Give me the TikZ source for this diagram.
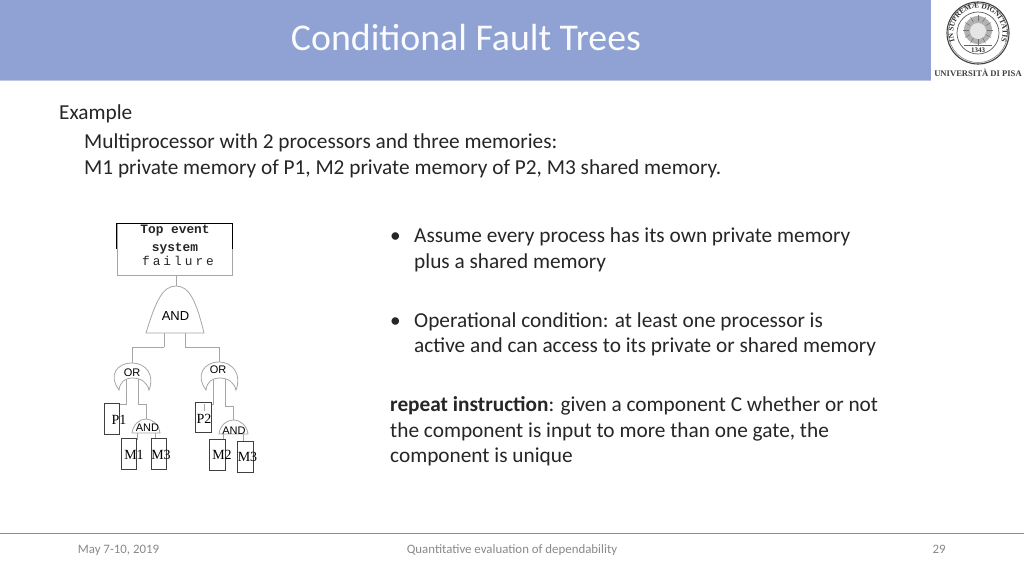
\documentclass[tikz,border=0pt]{standalone}
\usepackage{fontspec}
\setmainfont{Carlito}
\newfontfamily\helv{Liberation Sans}
\newfontfamily\tms{Liberation Serif}
\newfontfamily\crr{Liberation Mono}
\usetikzlibrary{decorations.text,calc}
\definecolor{band}{HTML}{8FA2D3}
\definecolor{ftxt}{HTML}{898989}
\definecolor{wire}{HTML}{A6A6A6}
\definecolor{bodyt}{HTML}{262626}
\definecolor{edge}{HTML}{404040}
\tikzset{
 x=1pt,y=-1pt,
 body/.style={anchor=base west,inner sep=0pt,font=\fontsize{21.3}{25}\selectfont,text=bodyt},
 foot/.style={anchor=base,inner sep=0pt,font=\fontsize{12.85}{15}\selectfont,text=ftxt},
 basic/.style={draw=edge,line width=.9pt,fill=white,inner sep=0pt},
 wirel/.style={draw=wire,line width=.8pt},
 gatel/.style={draw=wire,line width=.8pt,fill=white},
 glab/.style={inner sep=0pt,font=\helv\fontsize{12}{14}\selectfont,text=black},
 glabs/.style={inner sep=0pt,font=\helv\fontsize{11}{13}\selectfont,text=black},
 evt/.style={inner sep=0pt,font=\tms\fontsize{14}{16}\selectfont,text=black},
 top/.style={inner sep=0pt,font=\crr\bfseries\fontsize{12.8}{14}\selectfont,text=black!85},
}
\begin{document}
\begin{tikzpicture}
\useasboundingbox (0,0) rectangle (1024,576);
\fill[white] (0,0) rectangle (1024,576);
\fill[band] (0,0) rectangle (931,80);
\fill[band!60] (0,80) rectangle (931,80.8);
\node (title) [anchor=base,inner sep=0pt,text=white!96!band,font=\fontsize{37.8}{42}\selectfont] at (466,50) {Conditional Fault Trees};
% logo
\coordinate (seal) at (978,33);
\draw[black!75,line width=1.1pt] (seal) circle (31);
\draw[black!65,line width=.7pt] (seal) circle (21);
\draw[black!55,line width=.5pt] (seal) circle (29.5);
\fill[black!30] ($(seal)+(0,-3)$) circle (14);
\fill[black!10] ($(seal)+(0,-2)$) circle (8);
\foreach \a in {0,30,...,330}{\draw[black!55,line width=.5pt] ($(seal)+(0,-3)+(\a:9)$) -- ($(seal)+(0,-3)+(\a:15)$);}
\draw[black!60,line width=.6pt] ($(seal)+(-14,12)$) -- ($(seal)+(14,12)$);
\path[postaction={decorate,decoration={text along path,text align=center,text={|\tms\bfseries\fontsize{7.4}{8}\selectfont\color{black!80}|IN SUPREMÆ DIGNITATIS}}}]
  ($(seal)+(-22.5,10)$) arc[start angle=204,end angle=-24,radius=24.6,y radius=-24.6];
\node (year) [inner sep=0pt,font=\tms\bfseries\fontsize{7}{8}\selectfont,text=black!80] at ($(seal)+(0,17)$) {1343};
\node (uni) [inner sep=0pt,font=\tms\bfseries\fontsize{8.6}{10}\selectfont,text=black!75] at (978,73) {UNIVERSITÀ DI PISA};
% header text
\node (ex) [body] at (59,119.6) {Example};
\node (l1) [body] at (84,148.6) {Multiprocessor with 2 processors and three memories:};
\node (l2) [body] at (84,174.4) {M1 private memory of P1, M2 private memory of P2, M3 shared memory.};
\node (b1) [body] at (390,242.5) {•};
\node (b1a) [body] at (414,242.5) {Assume every process has its own private memory};
\node (b1b) [body] at (414,268.3) {plus a shared memory};
\node (b2) [body] at (390,327.3) {•};
\node (b2a) [body] at (414,327.3) {Operational condition: at least one processor is};
\node (b2b) [body] at (414,352.8) {active and can access to its private or shared memory};
\node (r1) [body] at (390,411.5) {\textbf{repeat instruction}: given a component C whether or not};
\node (r2) [body] at (390,437.3) {the component is input to more than one gate, the};
\node (r3) [body] at (390,462.8) {component is unique};
% footer
\draw[black!45,line width=.7pt] (0,533.5) -- (1024,533.5);
\node (f1) [foot] at (118.5,553) {May 7-10, 2019};
\node (f2) [foot] at (512,553) {Quantitative evaluation of dependability};
\node (f3) [foot] at (939,553) {29};
% coordinates of tree
\coordinate (andT) at (176,286);
\coordinate (or1T) at (132,363);
\coordinate (or2T) at (219,362);
\coordinate (a1T) at (146,419);
\coordinate (a2T) at (233,420);
\coordinate (j1) at (164,347);
\coordinate (j2) at (185,347);
% top box
\node (topbox) [draw=wire,line width=.8pt,minimum width=115pt,minimum height=52pt,inner sep=0pt] at (174.5,249) {};
\draw[black,line width=.8pt] (116.5,249) |- (232,223) -- (232,249);
\node (t1) [top] at (175,231) {Top event};
\node (t2) [top] at (175,248.5) {system};
\node (t3) [top,font=\crr\fontsize{12.8}{14}\selectfont] at (178,260.5) {f\hspace{3pt}a\hspace{3pt}i\hspace{3pt}l\hspace{3pt}u\hspace{3pt}r\hspace{3pt}e};
% wires
\draw[wirel] (topbox.south -| andT) -- (andT);
\draw[wirel] (j1) |- +(0,-14) (j1) -| (or1T);
\draw[wirel] (j2) |- +(0,-14) (j2) -| (or2T);
% big AND
\draw[gatel] (146,333) .. controls (156,300) and (163,286) .. (andT) .. controls (189,286) and (196,300) .. (204,333) -- cycle;
\node (andB) [glab,font=\helv\fontsize{13}{15}\selectfont] at (175.5,316) {AND};
% OR1 wires
\draw[wirel] (126,378) -- (126,404) -- (119,404);
\draw[wirel] (138,378) -- (138,404) -- (146,404) -- (a1T);
% P1
\node (P1) [basic,minimum width=15pt,minimum height=31pt] at (111.5,418.5) {};
\node (P1t) [evt] at (119,420) {P1};
% OR1
\draw[gatel] (119,390) .. controls (108,375) and (117,363) .. (or1T) .. controls (146,363) and (155,375) .. (149,390) .. controls (147,382) and (141,378) .. (132,378) .. controls (125,378) and (120,382) .. cycle;
\node (or1L) [glabs] at (132,372.5) {OR};
% small AND1
\draw[gatel] (132,433) .. controls (133,425) and (139,419) .. (a1T) .. controls (153,419) and (159,425) .. (160,433) -- cycle;
\node (a1L) [glabs] at (147.5,428) {AND};
\draw[wirel] (137,433) -- (137,440);
\draw[wirel] (155.5,433) -- (155.5,442);
\node (M1) [basic,minimum width=15pt,minimum height=31pt] at (128.5,453.5) {};
\node (M1t) [evt] at (134,455) {M1};
\node (M3) [basic,minimum width=15pt,minimum height=31pt] at (158.5,454) {};
\node (M3t) [evt] at (161,455) {M3};
% OR2 wires
\draw[wirel] (213,378) -- (213,404) -- (204,404) -- (204,411);
\draw[wirel] (225,378) -- (225,406) -- (233,406) -- (a2T);
\node (P2) [basic,minimum width=16pt,minimum height=30pt] at (203,417) {};
\draw[wirel] (204,404) -- (204,411);
\node (P2t) [evt] at (204,419) {P2};
\draw[gatel] (206,390) .. controls (195,375) and (204,362) .. (or2T) .. controls (233,362) and (242,375) .. (236,390) .. controls (234,382) and (228,378) .. (219,378) .. controls (212,378) and (207,382) .. cycle;
\node (or2L) [glabs] at (218,370) {OR};
\draw[gatel] (219,434) .. controls (220,426) and (226,420) .. (a2T) .. controls (241,420) and (247,426) .. (248,434) -- cycle;
\node (a2L) [glabs] at (234,431) {AND};
\draw[wirel] (223,434) -- (223,440);
\draw[wirel] (243,434) -- (243,444);
\node (M2) [basic,minimum width=16pt,minimum height=31pt] at (217,454.5) {};
\node (M2t) [evt] at (222,455) {M2};
\node (M3b) [basic,minimum width=16pt,minimum height=31pt] at (245,456.5) {};
\node (M3bt) [evt] at (247.5,457) {M3};
\end{tikzpicture}
\end{document}
